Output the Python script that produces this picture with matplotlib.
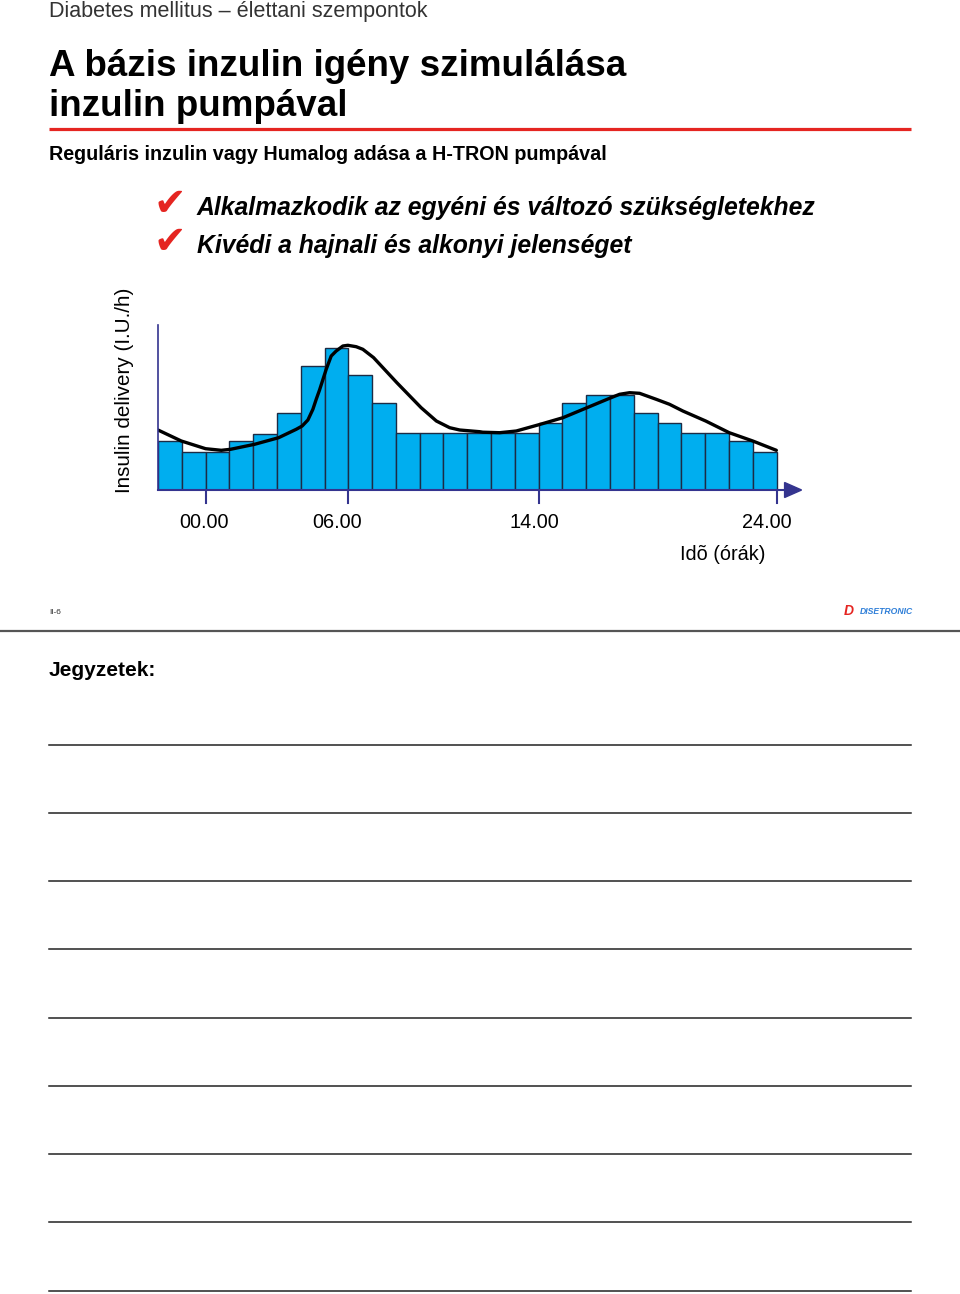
import matplotlib
matplotlib.use("Agg")
import matplotlib.pyplot as plt
import numpy as np

# ---------------- data ----------------
bar_starts = list(range(-2, 24))          # hour at left edge of each bar
bar_rates = [0.49, 0.38, 0.38, 0.49, 0.56, 0.77, 1.24, 1.42, 1.15, 0.87,
             0.57, 0.57, 0.57, 0.57, 0.57, 0.57, 0.67, 0.87, 0.95, 0.95,
             0.77, 0.67, 0.57, 0.57, 0.49, 0.38]
curve_hours = [-2.0, -1.02, 0.0, 0.66, 1.05, 2.06, 3.07, 3.81, 4.06, 4.3, 4.51,
               4.65, 4.79, 5.07, 5.28, 5.49, 5.77, 5.98, 6.33, 6.61, 7.06,
               8.04, 9.06, 9.7, 10.26, 10.68, 11.52, 11.65,
               12.36, 13.06, 14.01, 15.02, 16.03, 17.04, 17.4, 17.82, 18.24,
               18.94, 19.5, 20.06, 21.02, 22.01, 23.0, 23.99]
curve_rates = [0.60, 0.49, 0.413, 0.397, 0.407, 0.457, 0.523, 0.607, 0.64, 0.70,
               0.807, 0.907, 1.0, 1.207, 1.34, 1.39, 1.44, 1.447, 1.433, 1.407,
               1.324, 1.073, 0.823, 0.69, 0.623, 0.60, 0.583, 0.578,
               0.573, 0.59, 0.653, 0.723, 0.823, 0.923,
               0.957, 0.973, 0.967, 0.907, 0.857, 0.79, 0.69, 0.573, 0.49, 0.397]
tick_hours = [0, 6, 14, 24]
tick_labels = ["00.00", "06.00", "14.00", "24.00"]

header = "Diabetes mellitus \u2013 élettani szempontok"
title_lines = ["A bázis inzulin igény szimulálása", "inzulin pumpával"]
subtitle = "Reguláris inzulin vagy Humalog adása a H-TRON pumpával"
bullets = ["Alkalmazkodik az egyéni és változó szükségletekhez",
           "Kivédi a hajnali és alkonyi jelenséget"]
ylabel = "Insulin delivery (I.U./h)"
xlabel = "Idõ (órák)"

# ---------------- figure ----------------
W, H = 960, 1294
plt.rcParams['font.family'] = ['Liberation Sans', 'DejaVu Sans']
fig = plt.figure(figsize=(W / 100, H / 100), dpi=100)

# overlay in pixel coordinates
ov = fig.add_axes([0, 0, 1, 1])
ov.set_xlim(0, W)
ov.set_ylim(H, 0)
ov.axis('off')

ov.text(49, 12, header, fontsize=15.5, color='#333333', va='center', ha='left')
ov.text(49, 67, title_lines[0], fontsize=26.5, fontweight='bold', va='center', ha='left')
ov.text(49, 107, title_lines[1], fontsize=26.5, fontweight='bold', va='center', ha='left')
ov.plot([49, 911], [129, 129], color='#e52521', lw=2.3, solid_capstyle='butt')
ov.text(49, 155, subtitle, fontsize=14.2, fontweight='bold', va='center', ha='left')

for i, b in enumerate(bullets):
    y = 208 + i * 38
    ov.text(154, y - 4, "\u2714", fontsize=28, color='#e52521', va='center', ha='left',
            family='DejaVu Sans')
    ov.text(197, y, b, fontsize=17.8, fontweight='bold', fontstyle='italic',
            va='center', ha='left')

ov.text(124, 390, ylabel, fontsize=14.9, rotation=90, va='center', ha='center')

# footer of slide
ov.text(49, 613, "II-6", fontsize=6, va='center', ha='left', color='#333333')
ov.text(844, 611, "D", fontsize=10, fontweight='bold', fontstyle='italic',
        color='#e52521', va='center', ha='left')
ov.text(860, 612, "DISETRONIC", fontsize=6.2, fontweight='bold', fontstyle='italic',
        color='#2f7fd8', va='center', ha='left')
ov.plot([0, W], [631, 631], color='#555555', lw=1.6)

ov.text(49, 671, "Jegyzetek:", fontsize=15, fontweight='bold', va='center', ha='left')
for y in [745, 813, 881, 949, 1018, 1086, 1154, 1222, 1291]:
    ov.plot([49, 911], [y, y], color='#222222', lw=1.1)

# ---------------- chart ----------------
px_per_hour = (777 - 206) / 24.0
left_px, right_px, base_px, top_px = 158, 815, 490, 318
ax = fig.add_axes([left_px / W, (H - base_px) / H,
                   (right_px - left_px) / W, (base_px - top_px) / H])
ax.set_xlim(-2, -2 + (right_px - left_px) / px_per_hour)
ax.set_ylim(0, (base_px - top_px) / 100.0)
ax.axis('off')

axis_col = '#34348f'
ax.bar(bar_starts, bar_rates, width=1.0, align='edge', color='#00aeef',
       edgecolor='#1c2b45', linewidth=1.0, zorder=2)
ax.plot(curve_hours, curve_rates, color='black', lw=2.4, zorder=4,
        solid_joinstyle='round', solid_capstyle='round')

# axes lines
ax.plot([-2, -2], [0, 1.65], color=axis_col, lw=1.2, zorder=5, clip_on=False)
x_end = (785 - 206) / px_per_hour
ax.plot([-2, x_end], [0, 0], color=axis_col, lw=1.5, zorder=5, clip_on=False)
ax.fill([x_end, x_end, (802 - 206) / px_per_hour], [-0.075, 0.075, 0],
        color=axis_col, zorder=5, clip_on=False)
for t in tick_hours:
    ax.plot([t, t], [0, -0.13], color=axis_col, lw=1.5, zorder=5, clip_on=False)

label_centers_px = [204, 337, 535, 767]
for lab, cx in zip(tick_labels, label_centers_px):
    ax.text((cx - 206) / px_per_hour, -(523 - base_px) / 100.0, lab, fontsize=14.3,
            ha='center', va='center', clip_on=False)
ax.text((723 - 206) / px_per_hour, -(554 - base_px) / 100.0, xlabel, fontsize=14.3,
        ha='center', va='center', clip_on=False)

fig.savefig("out.png", dpi=100)
